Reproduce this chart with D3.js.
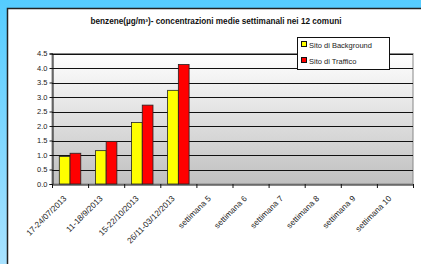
<!DOCTYPE html>
<html>
<head>
<meta charset="utf-8">
<script src="https://cdn.jsdelivr.net/npm/d3@7"></script>
<style>
  body { margin: 0; overflow: hidden; }
  svg { display: block; font-family: Arial, "Liberation Sans", sans-serif; }
</style>
</head>
<body>
<div id="chart"></div>
<script>
const categories = ["17-24/07/2013", "11-18/9/2013", "15-22/10/2013", "26/11-03/12/2013",
  "settimana 5", "settimana 6", "settimana 7", "settimana 8", "settimana 9", "settimana 10"];
const background = [0.95, 1.15, 2.12, 3.23, null, null, null, null, null, null];
const traffico = [1.06, 1.47, 2.72, 4.12, null, null, null, null, null, null];
const seriesNames = ["Sito di Background", "Sito di Traffico"];
const seriesColors = ["#ffff00", "#ff0000"];
const yTicks = [0, 0.5, 1, 1.5, 2, 2.5, 3, 3.5, 4, 4.5];

const width = 421, height = 264;
const svg = d3.select("#chart").append("svg")
    .attr("width", width)
    .attr("height", height);

const defs = svg.append("defs");
const bg = defs.append("linearGradient").attr("id", "bg").attr("x1", 0).attr("x2", 0).attr("y1", 0).attr("y2", 1);
bg.append("stop").attr("offset", "0%").attr("stop-color", "#55ccff");
bg.append("stop").attr("offset", "100%").attr("stop-color", "#a8e2ff");
const plotGrad = defs.append("linearGradient").attr("id", "plotbg").attr("x1", 0).attr("x2", 0).attr("y1", 0).attr("y2", 1);
plotGrad.append("stop").attr("offset", "0%").attr("stop-color", "#ffffff");
plotGrad.append("stop").attr("offset", "100%").attr("stop-color", "#c0c0c0");

svg.append("rect").attr("width", width).attr("height", height).attr("fill", "url(#bg)");
svg.append("rect").attr("x", 7).attr("y", 8).attr("width", width - 7).attr("height", height - 8).attr("fill", "#fff");
svg.append("path").attr("d", `M7.5,${height}V8.5H${width}`).attr("fill", "none").attr("stroke", "#222").attr("stroke-width", 1.5);

svg.append("text")
    .attr("x", 216).attr("y", 24)
    .attr("text-anchor", "middle")
    .attr("font-size", 8.2).attr("font-weight", "bold").attr("fill", "#111")
    .text("benzene(µg/m³)- concentrazioni medie settimanali nei 12 comuni");

const x = d3.scaleBand().domain(categories).range([52, 413]);
const xs = d3.scaleBand().domain(seriesNames).range([0, x.bandwidth()]).paddingInner(0).paddingOuter(0.68);
const y = d3.scaleLinear().domain([0, 4.5]).range([184, 53.5]);

const g = svg.append("g");
g.append("rect")
    .attr("x", 52).attr("y", y(4.5))
    .attr("width", 413 - 52).attr("height", y(0) - y(4.5))
    .attr("fill", "url(#plotbg)").attr("stroke", "#888").attr("stroke-width", 1);

g.selectAll("line.grid").data(yTicks.slice(1))
    .join("line").attr("class", "grid")
    .attr("x1", 52).attr("x2", 413)
    .attr("y1", d => Math.round(y(d)) + 0.5).attr("y2", d => Math.round(y(d)) + 0.5)
    .attr("stroke", "#111").attr("stroke-width", 1);

const seriesData = [background, traffico];
seriesData.forEach((vals, si) => {
  g.selectAll(null).data(vals.map((v, i) => ({ c: categories[i], v })).filter(d => d.v != null))
    .join("rect")
      .attr("x", d => x(d.c) + xs(seriesNames[si]))
      .attr("y", d => y(d.v))
      .attr("width", xs.bandwidth())
      .attr("height", d => y(0) - y(d.v))
      .attr("fill", seriesColors[si])
      .attr("stroke", "#222").attr("stroke-width", 0.8);
});

const yAxis = g.append("g")
    .attr("transform", "translate(52.5,0)")
    .call(d3.axisLeft(y).tickValues(yTicks).tickFormat(d3.format(".1f")).tickSize(3).tickPadding(2));
yAxis.selectAll("text").attr("font-size", 7.5).attr("fill", "#222");
yAxis.select(".domain").attr("stroke", "#111");
yAxis.selectAll(".tick line").attr("stroke", "#111");

const xAxis = g.append("g")
    .attr("transform", "translate(0,184.5)")
    .call(d3.axisBottom(x).tickSize(0).tickFormat(""));
xAxis.select(".domain").attr("stroke", "#111");
g.append("g").selectAll("line").data(categories.concat(["end"]))
    .join("line")
    .attr("x1", (d, i) => 52 + i * x.step() + 0.5)
    .attr("x2", (d, i) => 52 + i * x.step() + 0.5)
    .attr("y1", 184).attr("y2", 188)
    .attr("stroke", "#111");

g.selectAll("text.xl").data(categories)
    .join("text").attr("class", "xl")
    .attr("text-anchor", "end")
    .attr("font-size", 8.2).attr("fill", "#222")
    .attr("transform", d => `translate(${x(d) + x.bandwidth() / 2 - 3},${199}) rotate(-45)`)
    .text(d => d);

const legend = svg.append("g");
legend.append("rect")
    .attr("x", 297.5).attr("y", 37.5).attr("width", 92).attr("height", 32)
    .attr("fill", "#fff").attr("stroke", "#111").attr("stroke-width", 1);
seriesNames.forEach((s, i) => {
  legend.append("rect")
      .attr("x", 301.5).attr("y", 41.5 + i * 16).attr("width", 5).attr("height", 5)
      .attr("fill", seriesColors[i]).attr("stroke", "#111");
  legend.append("text")
      .attr("x", 309).attr("y", 47.5 + i * 16)
      .attr("font-size", 7.5).attr("fill", "#222")
      .text(s);
});
</script>
</body>
</html>
